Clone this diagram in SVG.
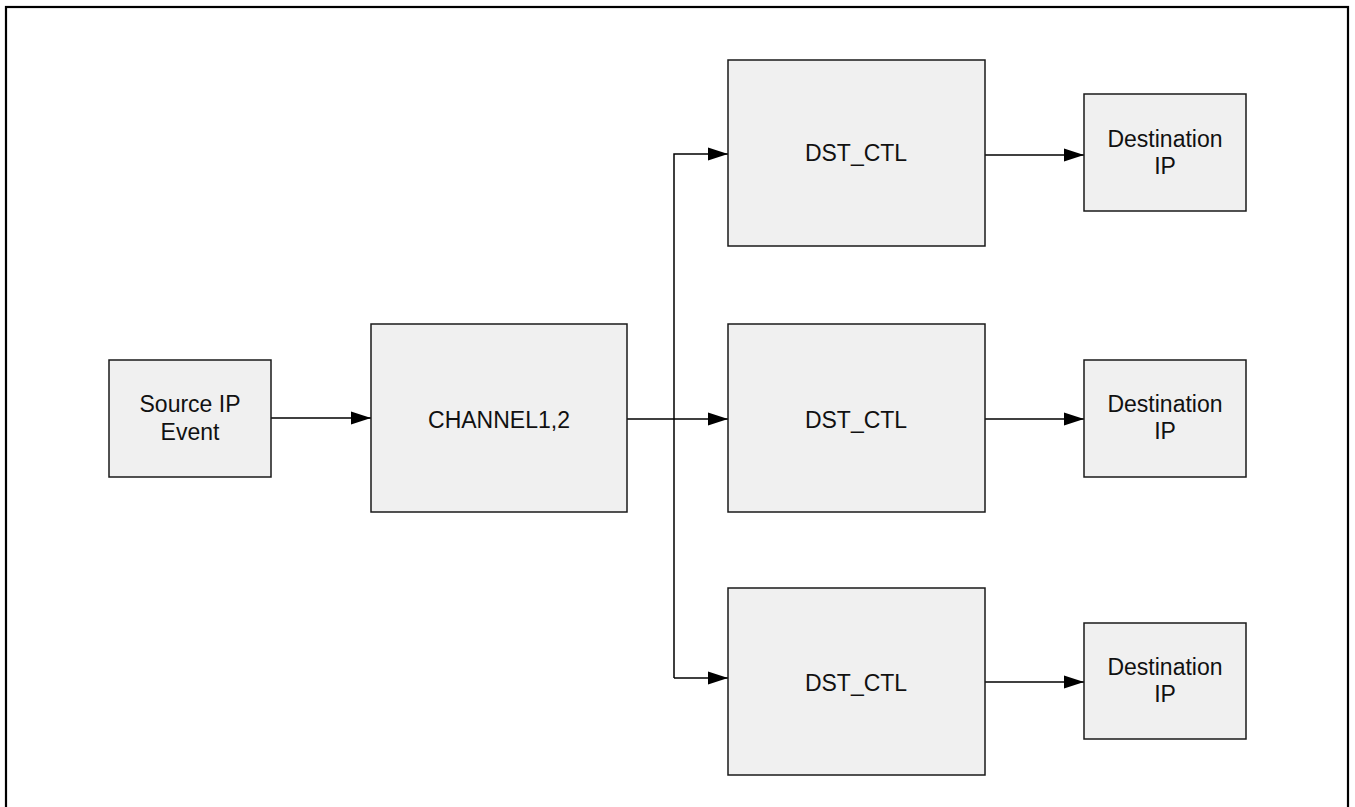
<svg xmlns="http://www.w3.org/2000/svg" width="1355" height="807" viewBox="0 0 1355 807">
<style>
.box{fill:#f0f0f0;stroke:#1a1a1a;stroke-width:1.5}
.lbl{font-family:"Liberation Sans",Arial,sans-serif;font-size:23px;fill:#111;text-anchor:middle}
.wire{fill:none;stroke:#000;stroke-width:1.5}
</style>
<defs>
<marker id="arr" markerWidth="20" markerHeight="14" refX="20" refY="7" orient="auto" markerUnits="userSpaceOnUse">
<path d="M0,0.5 L20,7 L0,13.5 Z" fill="#000"/>
</marker>
</defs>
<rect width="1355" height="807" fill="#fff"/>
<rect x="6" y="7" width="1342" height="820" fill="none" stroke="#000" stroke-width="2.2"/>
<g id="connectors">
<line class="wire" x1="271" y1="418" x2="371" y2="418" marker-end="url(#arr)"/>
<line class="wire" x1="627" y1="419" x2="728" y2="419" marker-end="url(#arr)"/>
<polyline class="wire" points="674,678 674,154 728,154" marker-end="url(#arr)"/>
<polyline class="wire" points="674,678 728,678" marker-end="url(#arr)"/>
<line class="wire" x1="985" y1="155" x2="1084" y2="155" marker-end="url(#arr)"/>
<line class="wire" x1="985" y1="419" x2="1084" y2="419" marker-end="url(#arr)"/>
<line class="wire" x1="985" y1="682" x2="1084" y2="682" marker-end="url(#arr)"/>
</g>
<g id="source">
<rect class="box" x="109" y="360" width="162" height="117"/>
<text class="lbl" x="190" y="412">Source IP</text>
<text class="lbl" x="190" y="440">Event</text>
</g>
<g id="channel">
<rect class="box" x="371" y="324" width="256" height="188"/>
<text class="lbl" x="499" y="428">CHANNEL1,2</text>
</g>
<g id="dst1">
<rect class="box" x="728" y="60" width="257" height="186"/>
<text class="lbl" x="856" y="161">DST_CTL</text>
</g>
<g id="dst2">
<rect class="box" x="728" y="324" width="257" height="188"/>
<text class="lbl" x="856" y="428">DST_CTL</text>
</g>
<g id="dst3">
<rect class="box" x="728" y="588" width="257" height="187"/>
<text class="lbl" x="856" y="691">DST_CTL</text>
</g>
<g id="ip1">
<rect class="box" x="1084" y="94" width="162" height="117"/>
<text class="lbl" x="1165" y="147">Destination</text>
<text class="lbl" x="1165" y="174">IP</text>
</g>
<g id="ip2">
<rect class="box" x="1084" y="360" width="162" height="117"/>
<text class="lbl" x="1165" y="412">Destination</text>
<text class="lbl" x="1165" y="439">IP</text>
</g>
<g id="ip3">
<rect class="box" x="1084" y="623" width="162" height="116"/>
<text class="lbl" x="1165" y="675">Destination</text>
<text class="lbl" x="1165" y="702">IP</text>
</g>
</svg>
